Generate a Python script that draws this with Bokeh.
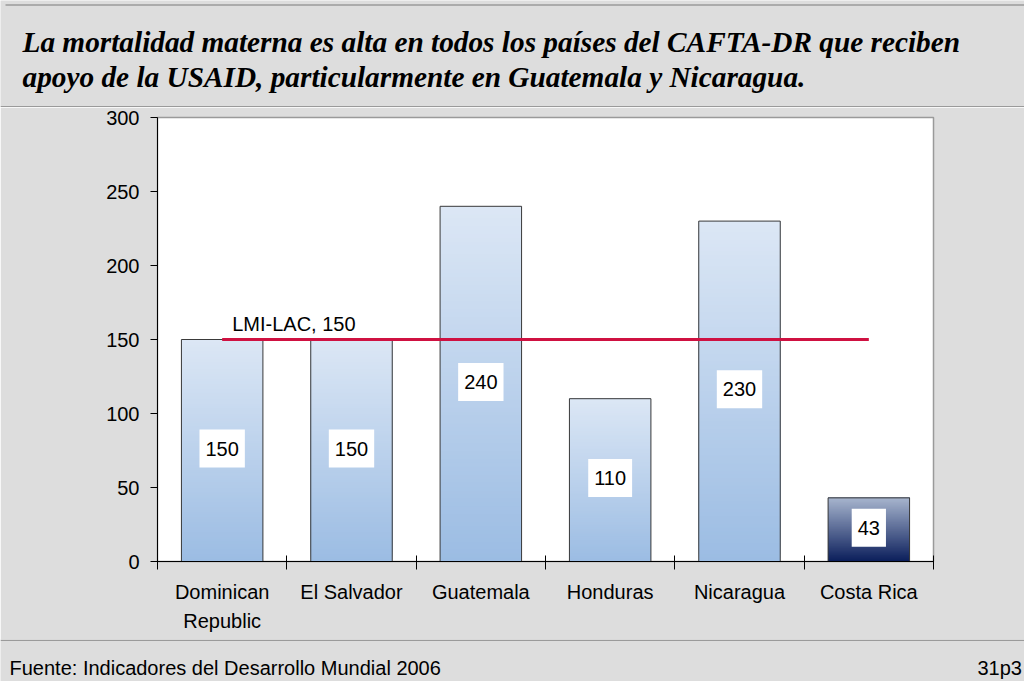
import numpy as np
from bokeh.plotting import figure
from bokeh.models import Range1d, FixedTicker, Label
from bokeh.layouts import column
from bokeh.embed import file_html
from bokeh.resources import INLINE

# ---------------- data ----------------
title_lines = [
    "La mortalidad materna es alta en todos los países del CAFTA-DR que reciben",
    "apoyo de la USAID, particularmente en Guatemala y Nicaragua.",
]
categories = ["Dominican\nRepublic", "El Salvador", "Guatemala", "Honduras", "Nicaragua", "Costa Rica"]
values = [150, 150, 240, 110, 230, 43]
ref_name = "LMI-LAC"
ref_value = 150
y_ticks = [0, 50, 100, 150, 200, 250, 300]
source_text = "Fuente: Indicadores del Desarrollo Mundial 2006"
page_code = "31p3"

# ---------------- style ----------------
PAGE_BG = "#dddddd"
FONT = "Liberation Sans"
grad_top = ["#dce7f5", "#dce7f5", "#dce7f5", "#dce7f5", "#dce7f5", "#a7b5ce"]
grad_bottom = ["#9bbce3", "#9bbce3", "#9bbce3", "#9bbce3", "#9bbce3", "#0b1e5b"]
BAR_W = 0.63
N_SLICES = 90
W = 1024
H_TITLE, H_MAIN, H_FOOT = 107, 532, 42


def hex2rgb(h):
    h = h.lstrip("#")
    return np.array([int(h[i:i + 2], 16) for i in (0, 2, 4)], dtype=float)


def rgb2hex(c):
    return "#%02x%02x%02x" % tuple(int(round(v)) for v in c)


def panel(h):
    fig = figure(width=W, height=h, x_range=Range1d(0, W), y_range=Range1d(0, h),
                 x_axis_type=None, y_axis_type=None, min_border=0,
                 toolbar_location=None, output_backend="svg",
                 background_fill_color=PAGE_BG, border_fill_color=PAGE_BG,
                 outline_line_color=None, frame_align=False)
    return fig


# ---------------- title panel ----------------
t = panel(H_TITLE)
for k, line in enumerate(title_lines):
    t.add_layout(Label(x=22, y=66 - 35 * k, text=line,
                       text_font="Liberation Serif", text_font_style="bold italic",
                       text_font_size="29.3px", text_color="black",
                       text_baseline="alphabetic"))
t.segment(x0=[0], y0=[0.75], x1=[W], y1=[0.75], line_color="#9a9a9a", line_width=1.5)
t.segment(x0=[5], y0=[H_TITLE - 4.5], x1=[W], y1=[H_TITLE - 4.5], line_color="#9a9a9a", line_width=1.5)

# ---------------- main chart ----------------
n = len(categories)
p = figure(width=W, height=H_MAIN, x_range=Range1d(0, n), y_range=Range1d(y_ticks[0], y_ticks[-1]),
           toolbar_location=None, output_backend="svg", frame_align=False,
           min_border_left=157, min_border_right=91, min_border_top=10, min_border_bottom=78,
           background_fill_color="white", border_fill_color=PAGE_BG,
           outline_line_color="#9a9a9a", outline_line_width=1.5)
p.grid.visible = False

centers = [i + 0.5 for i in range(n)]

# gradient bars (stacked slices, each covering to the bar top to avoid seams)
left, right, bottom, top, colors = [], [], [], [], []
for i, v in enumerate(values):
    ct, cb = hex2rgb(grad_top[i]), hex2rgb(grad_bottom[i])
    for k in range(N_SLICES):
        frac = k / N_SLICES
        tt = (k + 0.5) / N_SLICES
        left.append(centers[i] - BAR_W / 2)
        right.append(centers[i] + BAR_W / 2)
        bottom.append(v * frac)
        top.append(v)
        colors.append(rgb2hex(cb + (ct - cb) * tt))
p.quad(left=left, right=right, bottom=bottom, top=top, fill_color=colors, line_color=None)

# bar outlines
p.vbar(x=centers, top=values, width=BAR_W, bottom=0, fill_color=None,
       line_color="#3a3a3a", line_width=1)

# reference line
p.segment(x0=[centers[0]], y0=[ref_value], x1=[centers[-1]], y1=[ref_value],
          line_color="#cf1141", line_width=3)
p.add_layout(Label(x=centers[0], y=ref_value, x_offset=10, y_offset=16,
                   text=f"{ref_name}, {ref_value}", text_font=FONT,
                   text_font_size="20px", text_color="black",
                   text_baseline="alphabetic", text_align="left"))

# value labels
for c, v in zip(centers, values):
    p.add_layout(Label(x=c, y=v / 2, text=str(v), y_offset=2,
                       text_font=FONT, text_font_size="20px", text_color="black",
                       text_align="center", text_baseline="middle",
                       background_fill_color="white",
                       padding=dict(left=6, right=6, top=12, bottom=12)))

# axes
ya = p.yaxis[0]
ya.ticker = FixedTicker(ticks=y_ticks, minor_ticks=[])
ya.major_tick_in = 0
ya.major_tick_out = 7
ya.minor_tick_in = 0
ya.minor_tick_out = 0
ya.axis_line_color = "black"
ya.major_tick_line_color = "black"
ya.major_label_text_font = FONT
ya.major_label_text_font_size = "20px"
ya.major_label_text_color = "black"
ya.major_label_standoff = 11

xa = p.xaxis[0]
xa.ticker = FixedTicker(ticks=centers, minor_ticks=list(range(n + 1)))
xa.major_label_overrides = {c: name for c, name in zip(centers, categories)}
xa.major_tick_in = 0
xa.major_tick_out = 0
xa.minor_tick_in = 6
xa.minor_tick_out = 8
xa.minor_tick_line_color = "black"
xa.axis_line_color = "black"
xa.major_label_text_font = FONT
xa.major_label_text_font_size = "20px"
xa.major_label_text_color = "black"
xa.major_label_text_line_height = 1.35
xa.major_label_standoff = 11

# ---------------- footer panel ----------------
f = panel(H_FOOT)
f.segment(x0=[0], y0=[H_FOOT - 0.75], x1=[W], y1=[H_FOOT - 0.75], line_color="#9a9a9a", line_width=1.5)
f.add_layout(Label(x=9, y=14, text=source_text, text_font=FONT, text_font_size="20px",
                   text_color="black", text_baseline="alphabetic"))
f.add_layout(Label(x=977, y=14, text=page_code, text_font=FONT, text_font_size="20px",
                   text_color="black", text_baseline="alphabetic"))

layout = column(t, p, f, spacing=0)
open("out.html", "w").write(file_html(layout, INLINE))
